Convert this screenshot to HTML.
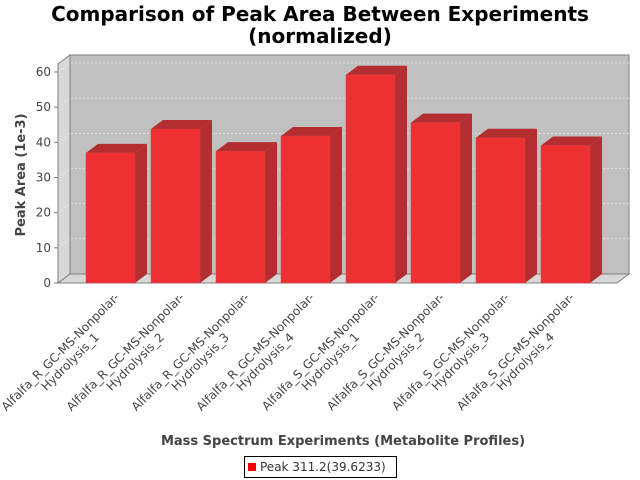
<!DOCTYPE html>
<html><head><meta charset="utf-8"><style>
html,body{margin:0;padding:0;background:#fff;}
svg{display:block;font-family:"DejaVu Sans","Liberation Sans",sans-serif;}
</style></head><body>
<svg id="chart" width="640" height="480" viewBox="0 0 640 480">
<rect x="0" y="0" width="640" height="480" fill="#fff"/>
<text x="320" y="21" text-anchor="middle" font-size="20" font-weight="bold" fill="#000">Comparison of Peak Area Between Experiments</text>
<text x="320" y="43" text-anchor="middle" font-size="20" font-weight="bold" fill="#000">(normalized)</text>
<g id="plot"></g>
<text transform="translate(25,175) rotate(-90)" text-anchor="middle" font-size="13" font-weight="bold" fill="#444">Peak Area (1e-3)</text>
<text x="343" y="445" text-anchor="middle" font-size="13" font-weight="bold" fill="#444">Mass Spectrum Experiments (Metabolite Profiles)</text>
<g>
<rect x="244.5" y="456.5" width="152" height="21" fill="#fff" stroke="#000" stroke-width="1"/>
<rect x="248" y="463" width="8" height="8" fill="#ff0000"/>
<text x="260" y="471" font-size="12" fill="#333">Peak 311.2(39.6233)</text>
</g>
</svg>
<script>
const categories1 = ["Alfalfa_R_GC-MS-Nonpolar-","Alfalfa_R_GC-MS-Nonpolar-","Alfalfa_R_GC-MS-Nonpolar-","Alfalfa_R_GC-MS-Nonpolar-","Alfalfa_S_GC-MS-Nonpolar-","Alfalfa_S_GC-MS-Nonpolar-","Alfalfa_S_GC-MS-Nonpolar-","Alfalfa_S_GC-MS-Nonpolar-"];
const categories2 = ["Hydrolysis_1","Hydrolysis_2","Hydrolysis_3","Hydrolysis_4","Hydrolysis_1","Hydrolysis_2","Hydrolysis_3","Hydrolysis_4"];
const values = [37.0, 43.8, 37.5, 41.8, 59.2, 45.6, 41.3, 39.1];
const yTicks = [0, 10, 20, 30, 40, 50, 60];

const NS = "http://www.w3.org/2000/svg";
const svg = document.getElementById('chart');
const plot = document.getElementById('plot');
const X0 = 58, X1 = 617, Y0 = 283, PX = 3.517, DX = 12, DY = 9, YTOP = 64;
function yScale(v){ return Y0 - v * PX; }
function xBand(i){ return 86 + i * 65; }
const BW = 49;
function mk(tag, attrs, parent){ const e = document.createElementNS(NS, tag); for (const k in attrs) e.setAttribute(k, attrs[k]); (parent||plot).appendChild(e); return e; }

const bw = mk('polygon', {points:`${X0},${YTOP} ${X0+DX},${YTOP-DY} ${X0+DX},${Y0-DY} ${X0},${Y0}`, fill:'#d8d8d8', stroke:'#808080'});


const bk = mk('rect', {x:X0+DX, y:YTOP-DY, width:X1-X0, height:Y0-YTOP, fill:'#c0c0c0', stroke:'#808080'});


const fl = mk('polygon', {points:`${X0},${Y0} ${X0+DX},${Y0-DY} ${X1+DX},${Y0-DY} ${X1},${Y0}`, fill:'#d8d8d8', stroke:'#808080'});



yTicks.forEach(t => {
  const y = yScale(t);
  if (t > 0) {
    const g = mk('polyline', {points:`${X0},${y} ${X0+DX},${y-DY} ${X1+DX},${y-DY}`, fill:'none', stroke:'#f4f4f4', 'stroke-dasharray':'2,2', 'stroke-width':'0.6'});
    
    
  }
  const tk = mk('line', {x1:X0-4, y1:y, x2:X0, y2:y, stroke:'#808080'});
  
  
  const lb = mk('text', {x:X0-7, y:y+4, 'text-anchor':'end', 'font-size':'12', fill:'#444'});
  lb.textContent = t;
  
  
});
const ax = mk('line', {x1:X0, y1:YTOP, x2:X0, y2:Y0, stroke:'#808080'});


const ax2 = mk('line', {x1:X0, y1:Y0, x2:X1, y2:Y0, stroke:'#808080'});



values.forEach((v, i) => {
  const x = xBand(i), y = yScale(v);
  const g = mk('g', {});
  
  
  mk('polygon', {points:`${x+BW},${y} ${x+BW+DX},${y-DY} ${x+BW+DX},${Y0-DY} ${x+BW},${Y0}`, fill:'#b42d30'}, g);
  mk('polygon', {points:`${x},${y} ${x+DX},${y-DY} ${x+BW+DX},${y-DY} ${x+BW},${y}`, fill:'#b42d30'}, g);
  mk('rect', {x:x, y:y, width:BW, height:Y0-y, fill:'#ee3033', stroke:'#d04045', 'stroke-width':'0.5'}, g);
});

categories1.forEach((c, i) => {
  const cx = xBand(i) + BW/2 + 9.5, cy = 298;
  const g = mk('g', {transform:`translate(${cx},${cy}) rotate(-45)`});
  
  
  const t1 = mk('text', {x:0, y:0, 'text-anchor':'end', 'font-size':'12', fill:'#444'}, g);
  t1.textContent = c;
  const w = t1.getComputedTextLength ? t1.getComputedTextLength() : 155;
  const t2 = mk('text', {x:-w/2, y:14, 'text-anchor':'middle', 'font-size':'12', fill:'#444'}, g);
  t2.textContent = categories2[i];
});
</script>
</body></html>
